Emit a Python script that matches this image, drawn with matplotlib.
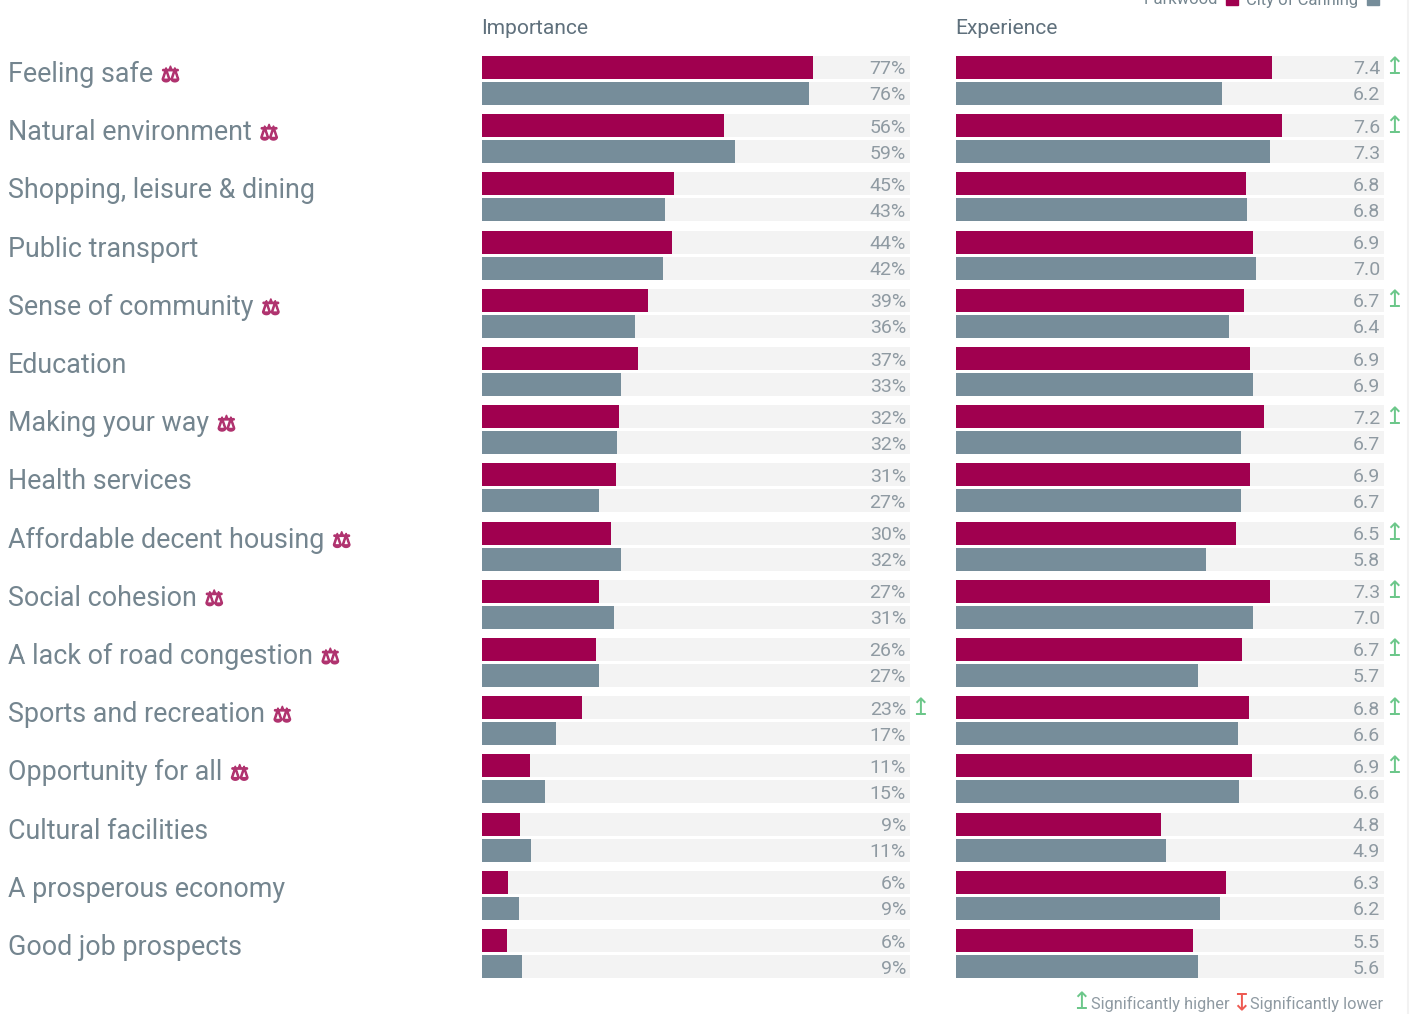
import matplotlib
matplotlib.use("Agg")
import matplotlib.pyplot as plt
import matplotlib.patheffects as pe
from matplotlib.lines import Line2D
from matplotlib.patches import Rectangle

plt.rcParams['font.family'] = ['Roboto', 'DejaVu Sans']

W, H = 1415, 1014

categories = ["Feeling safe", "Natural environment", "Shopping, leisure & dining",
              "Public transport", "Sense of community", "Education", "Making your way",
              "Health services", "Affordable decent housing", "Social cohesion",
              "A lack of road congestion", "Sports and recreation", "Opportunity for all",
              "Cultural facilities", "A prosperous economy", "Good job prospects"]
has_scale = [1, 1, 0, 0, 1, 0, 1, 0, 1, 1, 1, 1, 1, 0, 0, 0]

# bar lengths, the labels are the rounded printed ones
imp_park = [77, 56.3, 44.7, 44.2, 38.6, 36.3, 31.9, 31.2, 30, 27.2, 26.5, 23.3, 11.2, 8.8, 6, 5.8]
imp_city = [76, 58.8, 42.6, 42.1, 35.6, 32.3, 31.4, 27.2, 32.3, 30.7, 27.2, 17.2, 14.7, 11.4, 8.6, 9.3]
exp_park = [7.38, 7.62, 6.78, 6.94, 6.73, 6.87, 7.2, 6.87, 6.54, 7.34, 6.68, 6.85, 6.92, 4.79, 6.31, 5.54]
exp_city = [6.21, 7.34, 6.8, 7.01, 6.38, 6.94, 6.66, 6.66, 5.84, 6.94, 5.65, 6.59, 6.61, 4.91, 6.17, 5.65]

imp_park_lab = ["77%", "56%", "45%", "44%", "39%", "37%", "32%", "31%", "30%", "27%", "26%", "23%", "11%", "9%", "6%", "6%"]
imp_city_lab = ["76%", "59%", "43%", "42%", "36%", "33%", "32%", "27%", "32%", "31%", "27%", "17%", "15%", "11%", "9%", "9%"]
exp_park_lab = ["7.4", "7.6", "6.8", "6.9", "6.7", "6.9", "7.2", "6.9", "6.5", "7.3", "6.7", "6.8", "6.9", "4.8", "6.3", "5.5"]
exp_city_lab = ["6.2", "7.3", "6.8", "7.0", "6.4", "6.9", "6.7", "6.7", "5.8", "7.0", "5.7", "6.6", "6.6", "4.9", "6.2", "5.6"]

imp_higher = [0, 0, 0, 0, 0, 0, 0, 0, 0, 0, 0, 1, 0, 0, 0, 0]
exp_higher = [1, 1, 0, 0, 1, 0, 1, 0, 1, 1, 1, 1, 1, 0, 0, 0]

PARK = '#a0004f'
CITY = '#768d9a'
BG = '#f3f3f3'
TXT = '#74858f'
VAL = '#8f9aa2'
GREEN = '#6cc78a'
RED = '#ee5a52'

fig = plt.figure(figsize=(W / 100, H / 100), dpi=100, facecolor='white')

# all the layout is in reference pixels
ROW = 58.2
CENTER0 = 80.5
TOP, BOTTOM = 50, 985


def panel(left, right, xmax, park, city, park_lab, city_lab, higher, title):
    ax = fig.add_axes([left / W, 1 - BOTTOM / H, (right - left) / W, (BOTTOM - TOP) / H])
    ax.set_xlim(0, xmax)
    ax.set_ylim((BOTTOM - CENTER0) / ROW, (TOP - CENTER0) / ROW)
    ax.axis('off')
    off = 13 / ROW
    h = 23 / ROW
    for i in range(len(park)):
        ax.barh(i - off, xmax, height=h, color=BG, zorder=1)
        ax.barh(i + off, xmax, height=h, color=BG, zorder=1)
        ax.barh(i - off, park[i], height=h, color=PARK, zorder=2)
        ax.barh(i + off, city[i], height=h, color=CITY, zorder=2)
        ax.annotate(park_lab[i], xy=(xmax, i - off), xytext=(-4, -2), textcoords='offset pixels',
                    ha='right', va='center', fontsize=14, color=VAL)
        ax.annotate(city_lab[i], xy=(xmax, i + off), xytext=(-4, -2), textcoords='offset pixels',
                    ha='right', va='center', fontsize=14, color=VAL)
        if higher[i]:
            ax.annotate("↥", xy=(xmax, i - off), xytext=(10, 0), textcoords='offset pixels',
                        ha='center', va='center', fontsize=17, color=GREEN,
                        family='DejaVu Sans', annotation_clip=False)
    fig.text((left - 1) / W, 1 - 28 / H, title, fontsize=15.1, color='#5f707c',
             va='center', ha='left')
    return ax


panel(482, 910, 99.5, imp_park, imp_city, imp_park_lab, imp_city_lab, imp_higher, "Importance")
ax = panel(956, 1384, 10, exp_park, exp_city, exp_park_lab, exp_city_lab, exp_higher, "Experience")

for i, name in enumerate(categories):
    t = fig.text(8 / W, 1 - (74.5 + ROW * i) / H, name, fontsize=19.4, color=TXT,
                 va='center', ha='left')
    if has_scale[i]:
        ax.annotate("⚖", xy=(1, 0.5), xycoords=t, xytext=(8, -1), textcoords='offset pixels',
                    ha='left', va='center', fontsize=15, color='#b0336f', fontweight='bold',
                    family='DejaVu Sans', annotation_clip=False,
                    path_effects=[pe.withStroke(linewidth=1.2, foreground='#b0336f')])

# legend, cut by the top edge like in the reference
fig.text(1218 / W, 1 - 0 / H, "Parkwood", fontsize=12, color=TXT, ha='right', va='center')
fig.text(1246 / W, 1 - 0 / H, "City of Canning", fontsize=12, color=TXT, ha='left', va='center')
fig.add_artist(Rectangle((1226 / W, 1 - 5 / H), 12 / W, 6 / H, transform=fig.transFigure, color=PARK))
fig.add_artist(Rectangle((1367 / W, 1 - 5 / H), 12 / W, 6 / H, transform=fig.transFigure, color=CITY))

# footer
fig.text(1081 / W, 1 - 1002 / H, "↥", fontsize=17, color=GREEN, ha='center', va='center', family='DejaVu Sans')
fig.text(1091 / W, 1 - 1004 / H, "Significantly higher", fontsize=11.8, color=VAL, ha='left', va='center')
fig.text(1241 / W, 1 - 1002 / H, "↧", fontsize=17, color=RED, ha='center', va='center', family='DejaVu Sans')
fig.text(1250 / W, 1 - 1004 / H, "Significantly lower", fontsize=11.8, color=VAL, ha='left', va='center')

fig.add_artist(Line2D([1408 / W, 1408 / W], [0, 1], transform=fig.transFigure, color='#f2f2f2', lw=1.5))

fig.savefig("out.png", dpi=100)
